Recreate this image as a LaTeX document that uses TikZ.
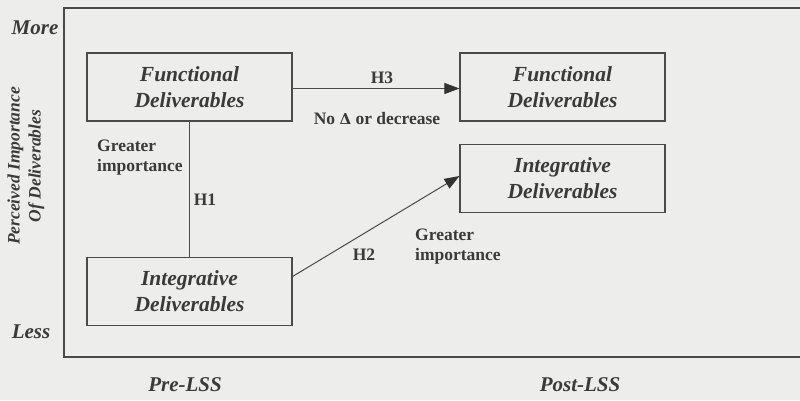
\documentclass[tikz,border=0pt]{standalone}
\usepackage{fontspec}
\setmainfont{Liberation Serif}
\usetikzlibrary{arrows.meta}
\definecolor{bg}{HTML}{EDEDEB}
\definecolor{ink}{HTML}{3A3A3A}
\definecolor{ln}{HTML}{4A4A4A}
\tikzset{
  delbox/.style={draw=ln, line width=1.1pt, minimum width=205pt, minimum height=68pt, inner sep=0pt,
    align=center, text=ink, font=\fontsize{21.5}{26}\selectfont\bfseries\itshape},
  lbl/.style={text=ink, font=\fontsize{17.5}{20}\selectfont\bfseries, inner sep=0pt, align=left},
  axlbl/.style={text=ink, font=\fontsize{21}{24}\selectfont\bfseries\itshape, inner sep=0pt},
  conn/.style={draw=ln, line width=1pt},
  arr/.style={conn, -{Triangle[length=15pt,width=11pt,color=black!80]}}
}
\begin{document}
\begin{tikzpicture}[x=1pt,y=-1pt]
\fill[bg] (0,0) rectangle (800,400);
\useasboundingbox (0,0) rectangle (800,400);
% frame
\draw[ln, line width=1.1pt] (800,8) -- (64,8) -- (64,357) -- (800,357);
% boxes
\node[delbox] (fpre) at (189.5,87) {Functional\\Deliverables};
\node[delbox] (ipre) at (189.5,291.5) {Integrative\\Deliverables};
\node[delbox] (fpost) at (562.5,87) {Functional\\Deliverables};
\node[delbox] (ipost) at (562.5,178.5) {Integrative\\Deliverables};
% connectors
\coordinate (h2s) at ([yshift=15pt]ipre.east);
\coordinate (h2e) at ([yshift=2.5pt]ipost.west);
\coordinate (h3s) at ([yshift=-1.5pt]fpre.east);
\coordinate (h3e) at ([yshift=-1.5pt]fpost.west);
\draw[conn] (fpre.south) -- (ipre.north);
\draw[arr] (h3s) -- (h3e);
\draw[arr] (h2s) -- (h2e);
% labels
\node[lbl, anchor=west] at (97,158) {Greater\\importance};
\node[lbl] at (205,200) {H1};
\node[lbl] at (382,78) {H3};
\node[lbl] at (377,119) {No {\fontspec{DejaVu Serif}\fontsize{15}{17}\selectfont\bfseries Δ} or decrease};
\node[lbl] at (364,255) {H2};
\node[lbl, anchor=west] at (415,247) {Greater\\importance};
% axis labels
\node[axlbl] at (35,28) {More};
\node[axlbl] at (31,332) {Less};
\node[axlbl] at (185,385) {Pre-LSS};
\node[axlbl] at (580,385) {Post-LSS};
\node[rotate=90, text=ink, font=\fontsize{17.5}{21}\selectfont\bfseries\itshape, align=center, inner sep=0pt] at (26,166) {Perceived Importance\\Of Deliverables};
\end{tikzpicture}
\end{document}
